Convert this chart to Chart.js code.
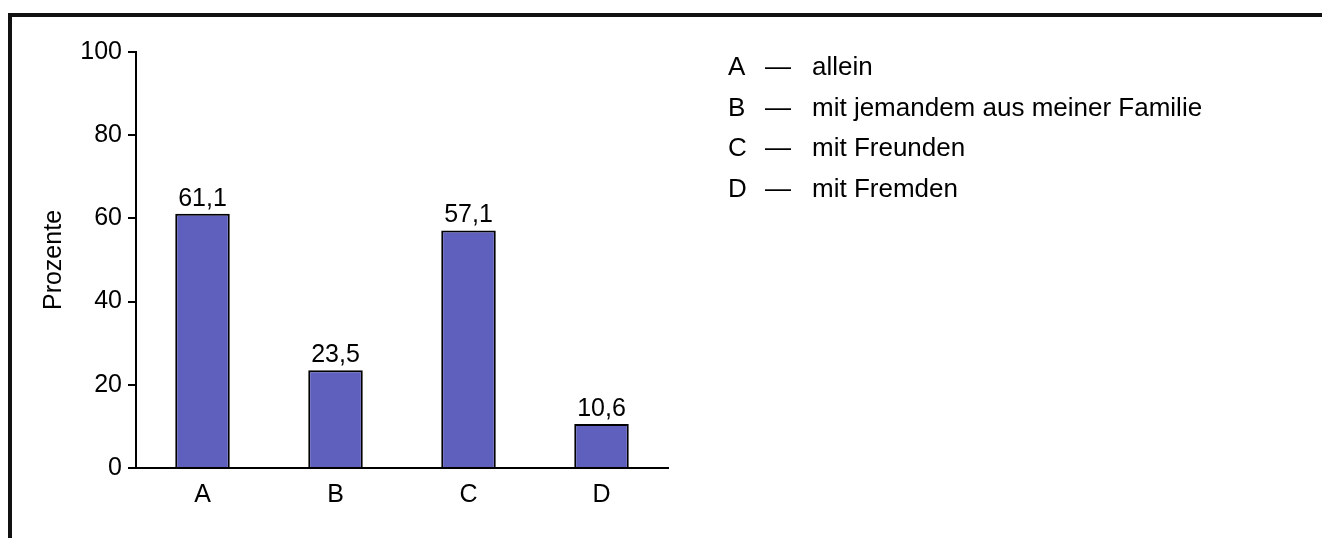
<!DOCTYPE html>
<html>
<head>
<meta charset="utf-8">
<script src="https://cdn.jsdelivr.net/npm/chart.js@4.4.1/dist/chart.umd.min.js"></script>
<style>
  html, body { margin: 0; padding: 0; background: #fff; }
  #wrap { width: 1322px; height: 538px; position: relative; }
</style>
</head>
<body>
<div id="wrap"><canvas id="chart" width="1322" height="538"></canvas></div>
<script>
// Chart data
const categories = ['A', 'B', 'C', 'D'];
const percentValues = [61.1, 23.5, 57.1, 10.6];
const yTicks = [0, 20, 40, 60, 80, 100];
const legendKeys = ['A', 'B', 'C', 'D'];
const legendLabels = ['allein', 'mit jemandem aus meiner Familie', 'mit Freunden', 'mit Fremden'];

const FONT = 'Liberation Sans, Arial, Helvetica, sans-serif';
const INK = '#000';

// frame lines, value labels and the key on the right
const extrasPlugin = {
  id: 'extras',
  afterDraw(chart) {
    const ctx = chart.ctx;
    ctx.save();

    // frame (top + left)
    ctx.strokeStyle = '#111';
    ctx.lineWidth = 4;
    ctx.beginPath();
    ctx.moveTo(8, 15);
    ctx.lineTo(1322, 15);
    ctx.moveTo(10, 13);
    ctx.lineTo(10, 538);
    ctx.stroke();

    // value labels above bars
    ctx.fillStyle = INK;
    ctx.font = '25px ' + FONT;
    ctx.textAlign = 'center';
    ctx.textBaseline = 'alphabetic';
    const meta = chart.getDatasetMeta(0);
    meta.data.forEach((bar, i) => {
      const txt = percentValues[i].toFixed(1).replace('.', ',');
      ctx.fillText(txt, bar.x, bar.y - 8);
    });

    // key
    ctx.textAlign = 'left';
    ctx.font = '26px ' + FONT;
    legendKeys.forEach((k, i) => {
      const y = 75 + i * 40.5;
      ctx.fillText(k, 728, y);
      ctx.fillText('\u2014', 765, y);
      ctx.fillText(legendLabels[i], 812, y);
    });

    ctx.restore();
  }
};

const ctx = document.getElementById('chart').getContext('2d');
new Chart(ctx, {
  type: 'bar',
  data: {
    labels: categories,
    datasets: [{
      label: 'Prozente',
      data: percentValues,
      backgroundColor: '#5f5fbe',
      borderColor: '#000',
      borderWidth: 2,
      borderSkipped: 'bottom',
      categoryPercentage: 1,
      barPercentage: 0.41
    }]
  },
  options: {
    responsive: false,
    animation: false,
    devicePixelRatio: 1,
    layout: {
      padding: { left: 35, top: 52, right: 654, bottom: 0 }
    },
    plugins: {
      legend: { display: false },
      tooltip: { enabled: false }
    },
    scales: {
      x: {
        grid: { display: true, drawOnChartArea: false, drawTicks: false },
        border: { display: true, color: INK, width: 2 },
        ticks: { color: INK, padding: 12, font: { size: 25, family: FONT } },
        afterFit(scale) { scale.height = 70; }
      },
      y: {
        min: 0,
        max: 100,
        afterBuildTicks(scale) { scale.ticks = yTicks.map(v => ({ value: v })); },
        grid: { display: true, drawOnChartArea: false, drawTicks: true, tickLength: 8, color: INK, lineWidth: 2 },
        border: { display: true, color: INK, width: 2 },
        ticks: { color: INK, padding: 6, font: { size: 25, family: FONT } },
        title: {
          display: true,
          text: 'Prozente',
          color: INK,
          padding: { top: 4, bottom: 4 },
          font: { size: 25, family: FONT }
        },
        afterFit(scale) { scale.width = 101; }
      }
    }
  },
  plugins: [extrasPlugin]
});
</script>
</body>
</html>
